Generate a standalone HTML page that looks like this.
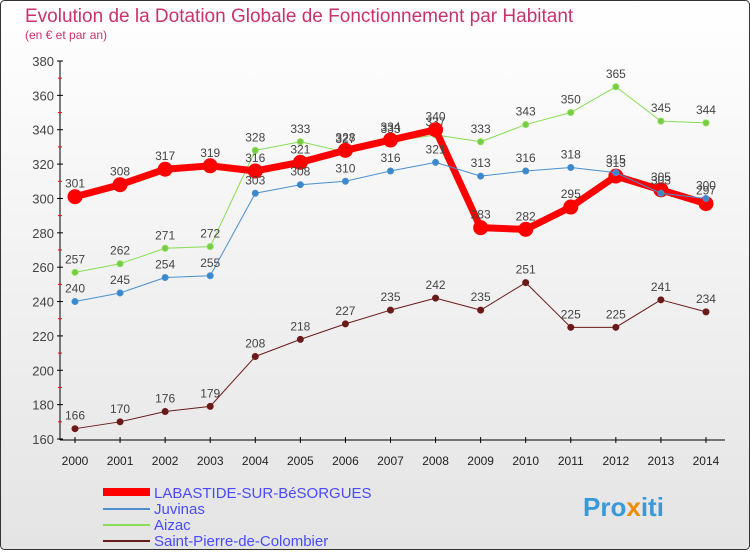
<!DOCTYPE html>
<html><head><meta charset="utf-8"><style>
body{margin:0}
svg text{font-family:"Liberation Sans",sans-serif}
</style></head><body>
<svg id="c" width="750" height="550" viewBox="0 0 750 550" xmlns="http://www.w3.org/2000/svg">
<defs><linearGradient id="bg" x1="0" y1="0" x2="0" y2="1"><stop offset="0" stop-color="#ffffff"/><stop offset="1" stop-color="#e4e4e4"/></linearGradient></defs>
<rect x="0.5" y="0.5" width="749" height="549" rx="4" fill="url(#bg)" stroke="#333"/>
<text x="25" y="22" font-size="19" fill="#c8336e">Evolution de la Dotation Globale de Fonctionnement par Habitant</text>
<text x="25" y="39" font-size="12" fill="#c8336e">(en € et par an)</text>
<g id="axes"></g><g id="series"></g>
<g>
<line x1="103" y1="492" x2="150" y2="492" stroke="#f00" stroke-width="8"/>
<text x="154" y="498" font-size="15" fill="#4a4aff">LABASTIDE-SUR-BéSORGUES</text>
<line x1="103" y1="509" x2="150" y2="509" stroke="#4a90d0" stroke-width="2"/>
<text x="154" y="514" font-size="15" fill="#4a4aff">Juvinas</text>
<line x1="103" y1="525" x2="150" y2="525" stroke="#88dd55" stroke-width="2"/>
<text x="154" y="530" font-size="15" fill="#4a4aff">Aizac</text>
<line x1="103" y1="541" x2="150" y2="541" stroke="#6b1a1a" stroke-width="2"/>
<text x="154" y="546" font-size="15" fill="#4a4aff">Saint-Pierre-de-Colombier</text>
</g>
<text x="583" y="516" font-size="26" font-weight="bold" fill="#3a9ad9">Pro<tspan fill="#f08a00">x</tspan>iti</text>
</svg>
<script>
const years=[2000,2001,2002,2003,2004,2005,2006,2007,2008,2009,2010,2011,2012,2013,2014];
const labastide=[301,308,317,319,316,321,328,334,340,283,282,295,313,305,297];
const juvinas=[240,245,254,255,303,308,310,316,321,313,316,318,315,303,300];
const aizac=[257,262,271,272,328,333,327,333,337,333,343,350,365,345,344];
const saintPierre=[166,170,176,179,208,218,227,235,242,235,251,225,225,241,234];
const yTicks=[160,180,200,220,240,260,280,300,320,340,360,380];
const NS="http://www.w3.org/2000/svg";
const X=i=>75+i*45.07;
const Y=v=>439-(v-160)*(378/220);
function mk(t,a,p){const e=document.createElementNS(NS,t);for(const k in a)e.setAttribute(k,a[k]);p.appendChild(e);return e;}
const ax=document.getElementById('axes');
let l=mk('line',{x1:60,y1:61,x2:60,y2:440,stroke:'#000'},ax);


l=mk('line',{x1:60,y1:440,x2:725,y2:440,stroke:'#000'},ax);


yTicks.forEach((v,i)=>{
  mk('line',{x1:57,y1:Y(v),x2:63,y2:Y(v),stroke:'#000'},ax);
  if(i<yTicks.length-1)mk('line',{x1:58,y1:Y(v+10),x2:62,y2:Y(v+10),stroke:'#f00'},ax);
  const t=mk('text',{x:54,y:Y(v)+5,'text-anchor':'end','font-size':13,fill:'#444'},ax);t.textContent=v;
  
  
});
years.forEach((yr,i)=>{
  mk('line',{x1:X(i),y1:437,x2:X(i),y2:443,stroke:'#000'},ax);
  const t=mk('text',{x:X(i),y:465,'text-anchor':'middle','font-size':12,fill:'#222'},ax);t.textContent=yr;
  
  
});
const sg=document.getElementById('series');
function series(d,col,w,r,name,dot){
  const g=mk('g',{},sg);
  
  
  mk('polyline',{points:d.map((v,i)=>X(i)+','+Y(v)).join(' '),fill:'none',stroke:col,'stroke-width':w,'stroke-linejoin':'round'},g);
  d.forEach((v,i)=>{
    const c=mk('circle',{cx:X(i),cy:Y(v),r:r,fill:dot,stroke:col,'stroke-width':1},g);
    
    
    const t=mk('text',{x:X(i),y:Y(v)-9,'text-anchor':'middle','font-size':12,fill:'#444'},g);t.textContent=v;
    
    
  });
}
series(saintPierre,'#6b1a1a',1,3,'series-saint-pierre','#6b1a1a');
series(aizac,'#88dd55',1,3,'series-aizac','#77cc44');
series(labastide,'#f00',7,7,'series-labastide','#f00');
series(juvinas,'#4a90d0',1,3,'series-juvinas','#3a88cc');
</script>
</body></html>
